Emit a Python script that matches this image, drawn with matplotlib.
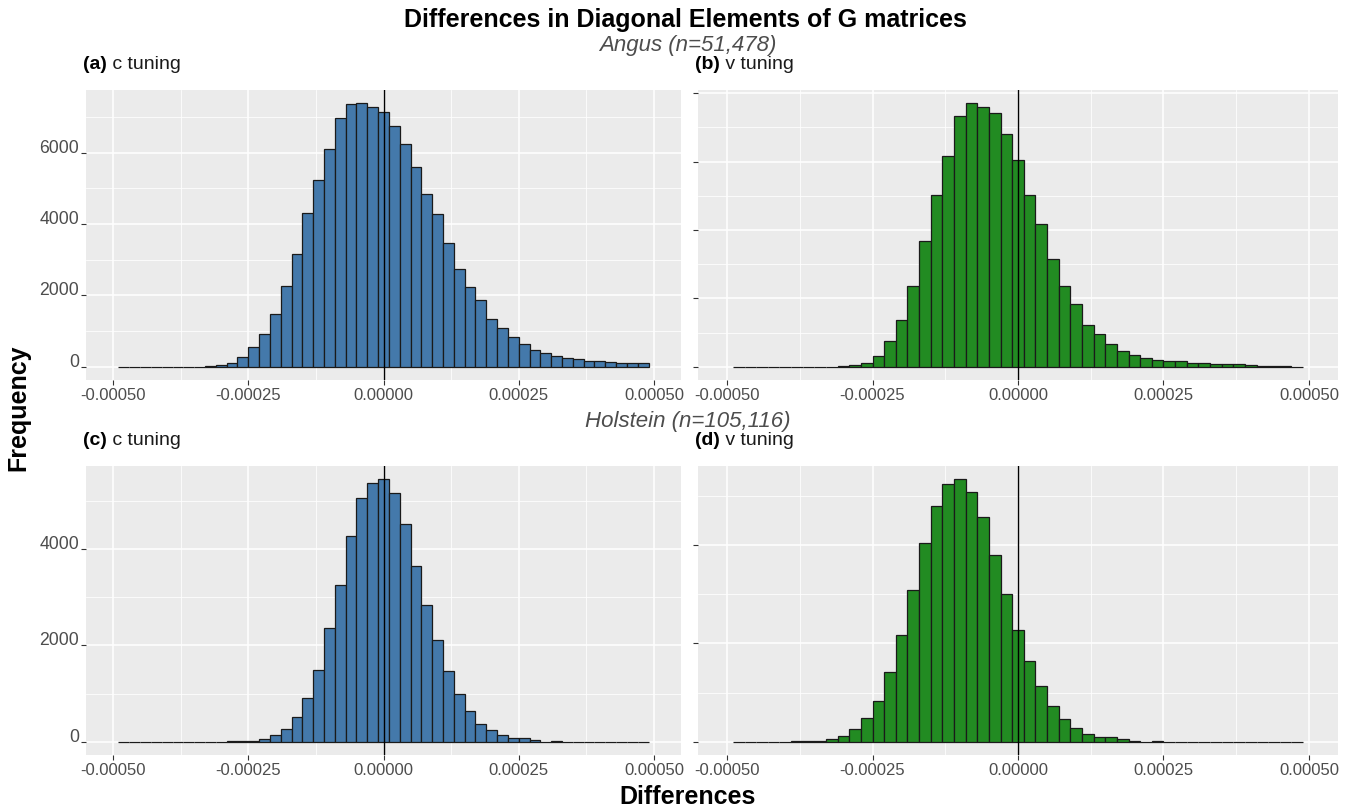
import matplotlib
matplotlib.use("Agg")
import matplotlib.pyplot as plt
import numpy as np

plt.rcParams["font.family"] = ["Liberation Sans", "DejaVu Sans"]

BLUE, GREEN = "#4479AB", "#228B22"
BINW = 0.00002
CENTERS = np.arange(-24, 25) * BINW     # bin centres -0.00048 .. 0.00048

# bar heights, left to right
ANGUS_C = [0, 0, 0, 0, 1, 2, 3, 6,
           20, 47, 112, 280, 561, 925, 1487, 2253, 3170, 4311, 5236, 6096, 6966, 7368, 7387, 7284,
           7153, 6751, 6246, 5601, 4853, 4292, 3478, 2749, 2235, 1879, 1337, 1075, 823, 645, 458,
           393, 309, 234, 215, 150, 150, 140, 112, 112, 94]
ANGUS_V = [0, 0, 0, 0, 0, 0, 1, 3, 8,
           20, 40, 117, 312, 752, 1366, 2352, 3670, 5017, 6158, 7330, 7710, 7603, 7437, 6812,
           6041, 5036, 4167, 3162, 2362, 1845, 1220, 947, 664, 459, 332, 264, 205, 156, 156,
           117, 107, 78, 68, 68, 39, 29, 20, 10, 5]
HOL_C = [0, 0, 0, 0, 0, 1, 2, 4,
         7, 7, 20, 28, 28, 69, 138, 269, 524, 917, 1483, 2359, 3256, 4270, 5043, 5360,
         5443, 5147, 4512, 3643, 2836, 2118, 1463, 1000, 635, 373, 241, 145, 90, 83, 35,
         7, 14, 3, 2, 1, 1, 0, 0, 0, 0]
HOL_V = [0, 0, 1, 2,
         5, 14, 27, 27, 68, 115, 257, 480, 838, 1426, 2170, 3076, 4036, 4793, 5232, 5334,
         5077, 4563, 3799, 3001,
         2265, 1643, 1136, 723, 466, 291, 169, 108, 95, 54, 20, 7, 14, 5, 3, 2, 1,
         0, 0, 0, 0, 0, 0, 0, 0]

XTICKS = [-0.0005, -0.00025, 0.0, 0.00025, 0.0005]
XLABELS = ["-0.00050", "-0.00025", "0.00000", "0.00025", "0.00050"]

W, H = 1352, 811
fig = plt.figure(figsize=(W / 100, H / 100), dpi=100)


def px_axes(l, t, r, b):
    return fig.add_axes([l / W, 1 - b / H, (r - l) / W, (b - t) / H])


def panel(box, counts, color, tag, name, show_y):
    ax = px_axes(*box)
    ax.set_facecolor("#EBEBEB")
    for s in ax.spines.values():
        s.set_visible(False)
    ax.bar(CENTERS, counts, width=BINW, color=color, edgecolor="#1a1a1a", linewidth=0.9, zorder=3)
    ax.axvline(0, color="black", lw=1.0, zorder=4)
    m = max(counts)
    ax.set_xticks(XTICKS)
    ax.set_xticklabels(XLABELS)
    ax.set_xticks([-0.000375, -0.000125, 0.000125, 0.000375], minor=True)
    yt = np.arange(0, 1.05 * m, 2000)
    ax.set_yticks(yt)
    ax.set_yticks(yt + 1000, minor=True)
    ax.set_yticklabels([f"{int(v)}" for v in yt] if show_y else [])
    for lab in ax.get_yticklabels():
        lab.set_va("baseline")
        lab.set_fontsize(12.7)
    ax.set_ylim(-0.05 * m, 1.05 * m)
    ax.set_xlim(-0.00055, 0.00055)
    ax.grid(which="major", color="white", lw=1.1, zorder=0)
    ax.grid(which="minor", color="white", lw=0.55, zorder=0)
    ax.tick_params(which="major", length=3.5, width=0.8, color="#333333",
                   labelsize=12, labelcolor="#4D4D4D", pad=2)
    ax.tick_params(axis="y", labelsize=12.7, pad=1.5)
    ax.tick_params(which="minor", length=0)
    t1 = ax.text(-0.005, 1 + 21 / 290, tag, transform=ax.transAxes, fontsize=14,
                 fontweight="bold", color="black", ha="left", va="baseline")
    ax.annotate(" " + name, xy=(1, 0), xycoords=t1, fontsize=14, color="#1a1a1a",
                ha="left", va="bottom")
    return ax


panel((86, 90, 681, 380), ANGUS_C, BLUE, "(a)", "c tuning", True)
panel((698, 90, 1338, 380), ANGUS_V, GREEN, "(b)", "v tuning", False)
panel((86, 466, 681, 755), HOL_C, BLUE, "(c)", "c tuning", True)
panel((698, 466, 1338, 755), HOL_V, GREEN, "(d)", "v tuning", False)

fig.text(685 / W, 1 - 20 / H, "Differences in Diagonal Elements of G matrices",
         fontsize=18, fontweight="bold", ha="center", va="center")
fig.text(688 / W, 1 - 46 / H, "Angus (n=51,478)", fontsize=16, style="italic",
         color="#4D4D4D", ha="center", va="center")
fig.text(688 / W, 1 - 421 / H, "Holstein (n=105,116)", fontsize=16, style="italic",
         color="#4D4D4D", ha="center", va="center")
fig.text(18 / W, 1 - 408 / H, "Frequency", fontsize=18, fontweight="bold",
         rotation=90, ha="center", va="center")
fig.text(688 / W, 1 - 797 / H, "Differences", fontsize=18, fontweight="bold",
         ha="center", va="center")

fig.savefig("out.png", dpi=100)
